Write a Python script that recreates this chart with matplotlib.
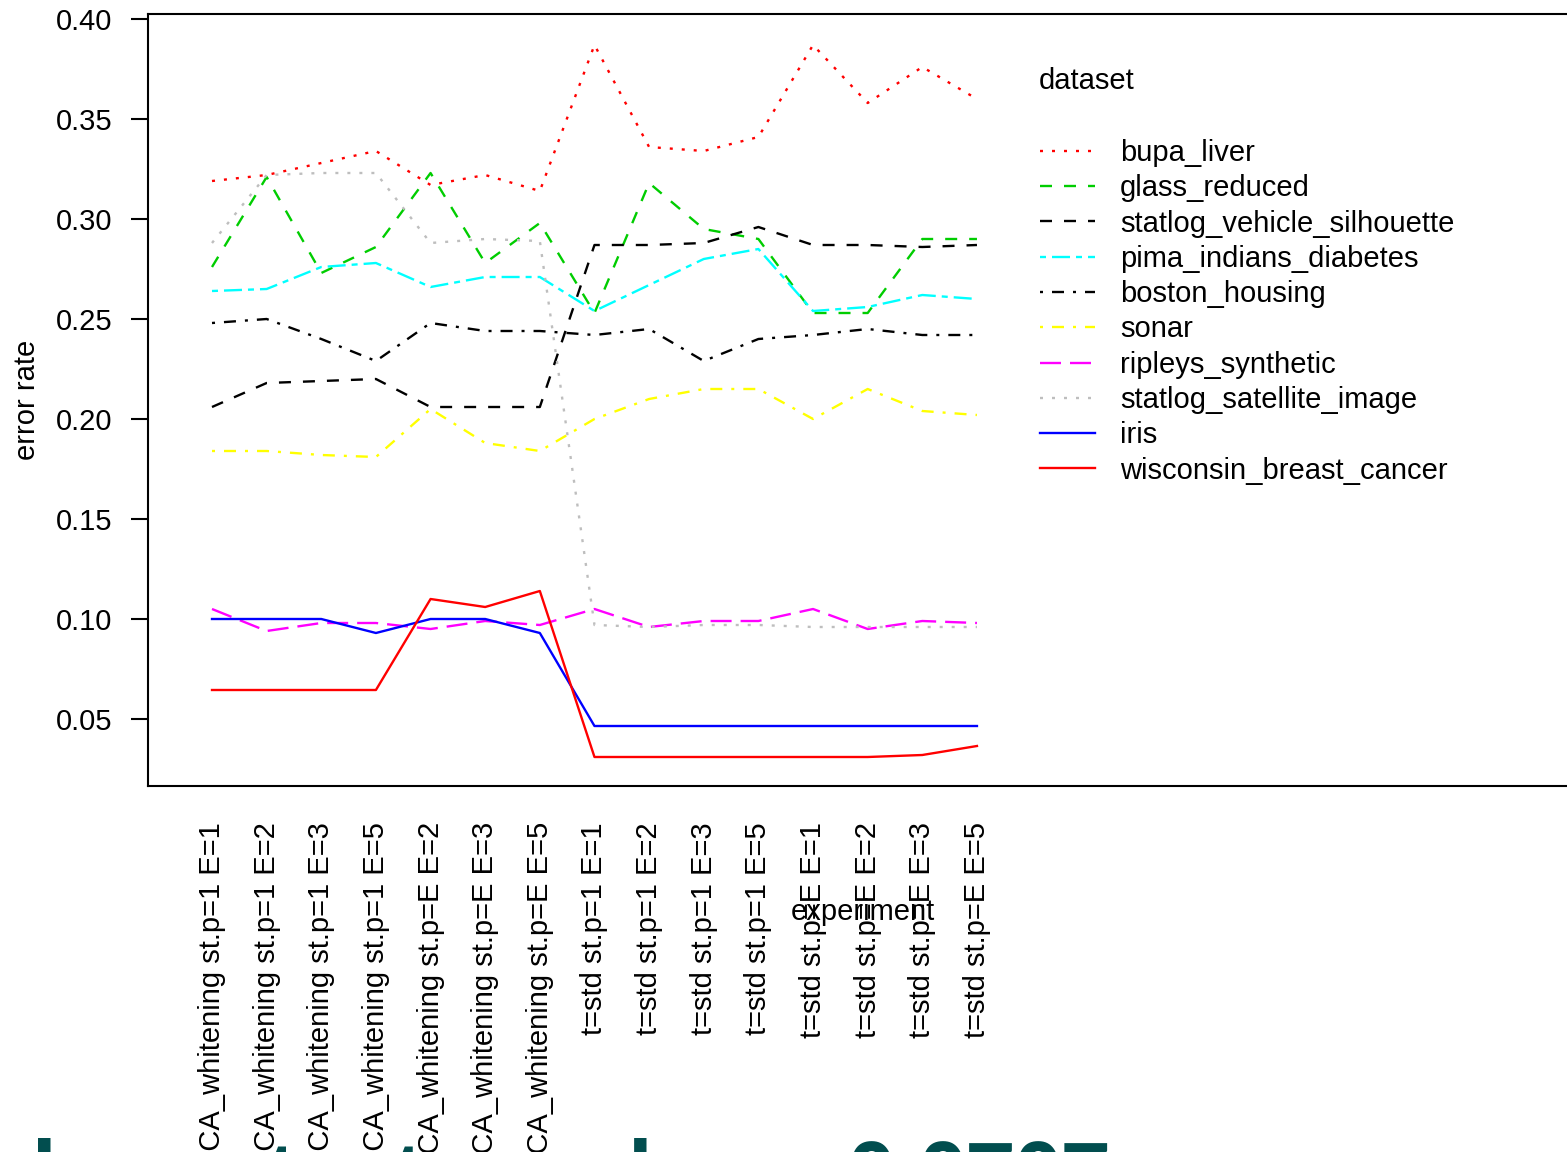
import matplotlib
matplotlib.use('Agg')
import matplotlib.pyplot as plt

plt.rcParams['font.family'] = ['Liberation Sans', 'DejaVu Sans']
plt.rcParams['lines.scale_dashes'] = False

# categories on the x axis
experiments = ['t=PCA_whitening st.p=1 E=1', 't=PCA_whitening st.p=1 E=2',
               't=PCA_whitening st.p=1 E=3', 't=PCA_whitening st.p=1 E=5',
               't=PCA_whitening st.p=E E=2', 't=PCA_whitening st.p=E E=3',
               't=PCA_whitening st.p=E E=5',
               't=std st.p=1 E=1', 't=std st.p=1 E=2', 't=std st.p=1 E=3',
               't=std st.p=1 E=5', 't=std st.p=E E=1', 't=std st.p=E E=2',
               't=std st.p=E E=3', 't=std st.p=E E=5']

# error rate per dataset
bupa_liver = [0.319, 0.322, 0.328, 0.334, 0.317, 0.322, 0.314, 0.387,
              0.336, 0.334, 0.341, 0.387, 0.358, 0.376, 0.360]
glass_reduced = [0.276, 0.321, 0.273, 0.286, 0.323, 0.278, 0.298, 0.253,
                 0.318, 0.295, 0.290, 0.253, 0.253, 0.290, 0.290]
statlog_vehicle_silhouette = [0.206, 0.218, 0.219, 0.220, 0.206, 0.206, 0.206, 0.287,
                              0.287, 0.288, 0.296, 0.287, 0.287, 0.286, 0.287]
pima_indians_diabetes = [0.264, 0.265, 0.276, 0.278, 0.266, 0.271, 0.271, 0.254,
                         0.267, 0.280, 0.285, 0.254, 0.256, 0.262, 0.260]
boston_housing = [0.248, 0.250, 0.240, 0.229, 0.248, 0.244, 0.244, 0.242,
                  0.245, 0.229, 0.240, 0.242, 0.245, 0.242, 0.242]
sonar = [0.184, 0.184, 0.182, 0.181, 0.205, 0.188, 0.184, 0.200,
         0.210, 0.215, 0.215, 0.200, 0.215, 0.204, 0.202]
ripleys_synthetic = [0.105, 0.094, 0.098, 0.098, 0.095, 0.099, 0.097, 0.105,
                     0.096, 0.099, 0.099, 0.105, 0.095, 0.099, 0.098]
statlog_satellite_image = [0.288, 0.322, 0.323, 0.323, 0.288, 0.290, 0.289, 0.097,
                           0.096, 0.097, 0.097, 0.096, 0.096, 0.096, 0.096]
iris = [0.100, 0.100, 0.100, 0.093, 0.100, 0.100, 0.093, 0.0465,
        0.0465, 0.0465, 0.0465, 0.0465, 0.0465, 0.0465, 0.0465]
wisconsin_breast_cancer = [0.0645, 0.0645, 0.0645, 0.0645, 0.110, 0.106, 0.114, 0.031,
                           0.031, 0.031, 0.031, 0.031, 0.031, 0.032, 0.0365]

datasets = ['bupa_liver', 'glass_reduced', 'statlog_vehicle_silhouette',
            'pima_indians_diabetes', 'boston_housing', 'sonar',
            'ripleys_synthetic', 'statlog_satellite_image', 'iris',
            'wisconsin_breast_cancer']
series = [bupa_liver, glass_reduced, statlog_vehicle_silhouette,
          pima_indians_diabetes, boston_housing, sonar, ripleys_synthetic,
          statlog_satellite_image, iris, wisconsin_breast_cancer]

# R-like line types, in points
u = 2.16
dotted = (0, (u, 3 * u))
dashed = (0, (4 * u, 4 * u))
dotdash = (0, (u, 3 * u, 4 * u, 3 * u))
longdash = (0, (7 * u, 3 * u))
twodash = (0, (2 * u, 2 * u, 6 * u, 2 * u))
solid = '-'

colors = ['#FF0000', '#00CD00', '#000000', '#00FFFF', '#000000',
          '#FFFF00', '#FF00FF', '#BEBEBE', '#0000FF', '#FF0000']
styles = [dotted, dashed, dashed, twodash, dotdash,
          dotdash, longdash, dotted, solid, solid]

FS = 21
W, H = 1567, 1152
fig = plt.figure(figsize=(W / 100, H / 100), dpi=100)
ax = fig.add_axes([148 / W, 1 - 786 / H, 1 - 148 / W, (786 - 14) / H])

x = list(range(1, len(experiments) + 1))
for name, vals, c, ls in zip(datasets, series, colors, styles):
    ax.plot(x, vals, color=c, linestyle=ls, linewidth=1.7, label=name)

ax.set_xlim(1 - 64 / 54.64, 1 + (W - 212) / 54.64)
ax.set_ylim(0.0165, 0.4025)

for side in ['left', 'top', 'bottom']:
    ax.spines[side].set_linewidth(1.5)
ax.spines['right'].set_visible(False)

ax.set_yticks([0.05, 0.10, 0.15, 0.20, 0.25, 0.30, 0.35, 0.40])
ax.set_yticklabels(['0.05', '0.10', '0.15', '0.20', '0.25', '0.30', '0.35', '0.40'])
ax.tick_params(axis='y', direction='out', length=12.6, width=1.5, pad=13, labelsize=FS)
ax.set_xticks(x)
ax.set_xticklabels(experiments, rotation=90, va='top', ha='center')
ax.tick_params(axis='x', length=0, pad=26, labelsize=FS)

ax.set_xlabel('experiment', fontsize=FS, va='center')
ax.xaxis.set_label_coords((863 - 148) / (W - 148), -(912 - 786) / (786 - 14))
ax.set_ylabel('error rate', fontsize=FS, va='center')
ax.yaxis.set_label_coords(-(148 - 27) / (W - 148), 0.5)

fig.text(1039 / W, 1 - 81 / H, 'dataset', fontsize=FS, ha='left', va='center')
ax.legend(loc='upper left', bbox_to_anchor=(1040 / W, 1 - 139 / H),
          bbox_transform=fig.transFigure, frameon=False, fontsize=FS,
          handlelength=1.88, handletextpad=0.86, labelspacing=0.25,
          borderpad=0, borderaxespad=0)

# cut-off heading at the very bottom of the screenshot
fig.text(1110 / W, -(1201 - H) / H, 'Friedman test p-value = 0.0707',
         ha='right', va='baseline', fontsize=60, color='#024e4f',
         fontweight='bold', family=['Open Sans', 'DejaVu Sans'])

fig.savefig('out.png', dpi=100)
